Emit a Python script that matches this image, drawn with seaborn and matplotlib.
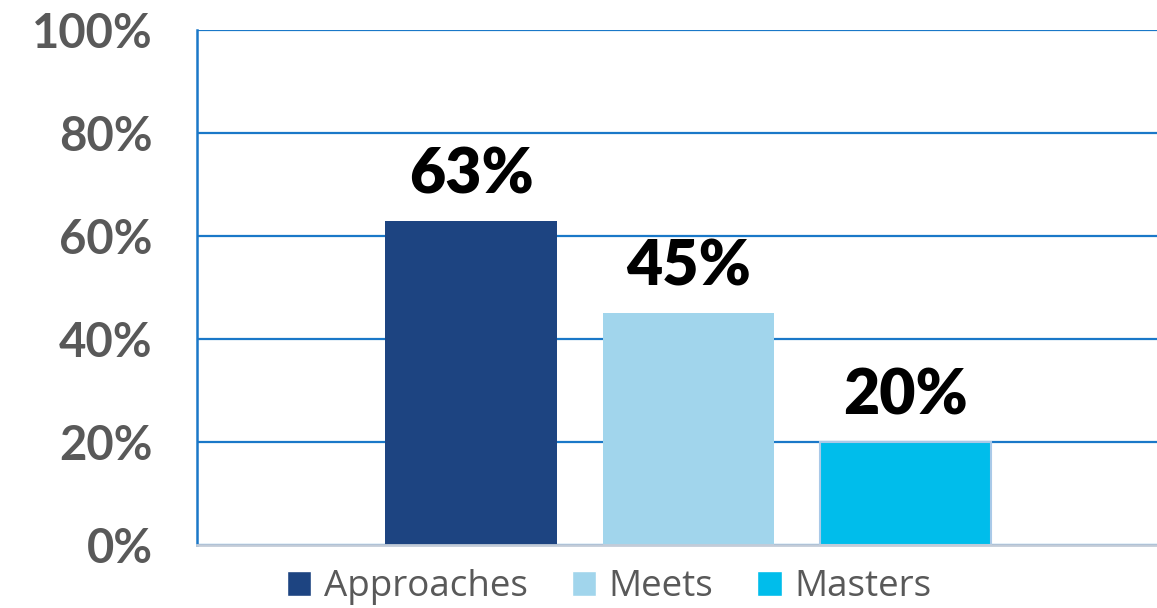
import matplotlib
matplotlib.use("Agg")
import matplotlib.pyplot as plt
import seaborn as sns
import pandas as pd

# Share of students at each performance level
levels = ["Approaches", "Meets", "Masters"]
percent = [63, 45, 20]
colors = ["#1D4481", "#A1D5EC", "#00BDEB"]
y_ticks = [0, 20, 40, 60, 80, 100]
y_tick_labels = ["0%", "20%", "40%", "60%", "80%", "100%"]

df = pd.DataFrame({"level": levels, "pct": percent})

sns.set_theme(style="white")
plt.rcParams["font.family"] = ["Lato", "DejaVu Sans"]

fig = plt.figure(figsize=(11.57, 6.08), dpi=100)
ax = fig.add_axes([197 / 1157, 1 - 545 / 608, 1 - 197 / 1157, (545 - 30) / 608])

sns.barplot(data=df, x="level", y="pct", hue="level", palette=colors,
            width=0.79, ax=ax, legend=True, saturation=1)

# light outline on the Masters bar
ax.patches[2].set_edgecolor("#A9C9E8")
ax.patches[2].set_linewidth(1.5)
for p in ax.patches[:2]:
    p.set_linewidth(0)

# value labels above each bar
for i, v in enumerate(percent):
    ax.text(i, v + 3.4, f"{v}%", ha="center", va="bottom",
            fontsize=45, fontweight="heavy", color="black")

ax.set_xlim(-1.263, 3.159)
ax.set_ylim(0, 100)
ax.set_yticks(y_ticks)
ax.set_yticklabels(y_tick_labels, fontsize=34, fontweight="bold", color="#595959")
ax.tick_params(axis="y", length=0, pad=32)
ax.set_xticks([])
ax.set_xlabel("")
ax.set_ylabel("")

ax.yaxis.grid(True, color="#1A78C8", linewidth=1.6)
ax.set_axisbelow(True)
for side in ["top", "right"]:
    ax.spines[side].set_visible(False)
ax.spines["left"].set_color("#1A78C8")
ax.spines["left"].set_linewidth(1.8)
ax.spines["bottom"].set_color("#C3CCD8")
ax.spines["bottom"].set_linewidth(2)
ax.spines["bottom"].set_zorder(5)

handles, labels = ax.get_legend_handles_labels()
ax.get_legend().remove()
fig.legend(handles, labels, loc="center", bbox_to_anchor=(609 / 1157, 1 - 587 / 608),
           ncol=3, frameon=False,
           prop={"family": ["Open Sans", "DejaVu Sans"], "size": 26.5},
           labelcolor="#595959", handlelength=0.67, handleheight=0.67,
           handletextpad=0.33, columnspacing=1.2)

fig.savefig("out.png", dpi=100)
